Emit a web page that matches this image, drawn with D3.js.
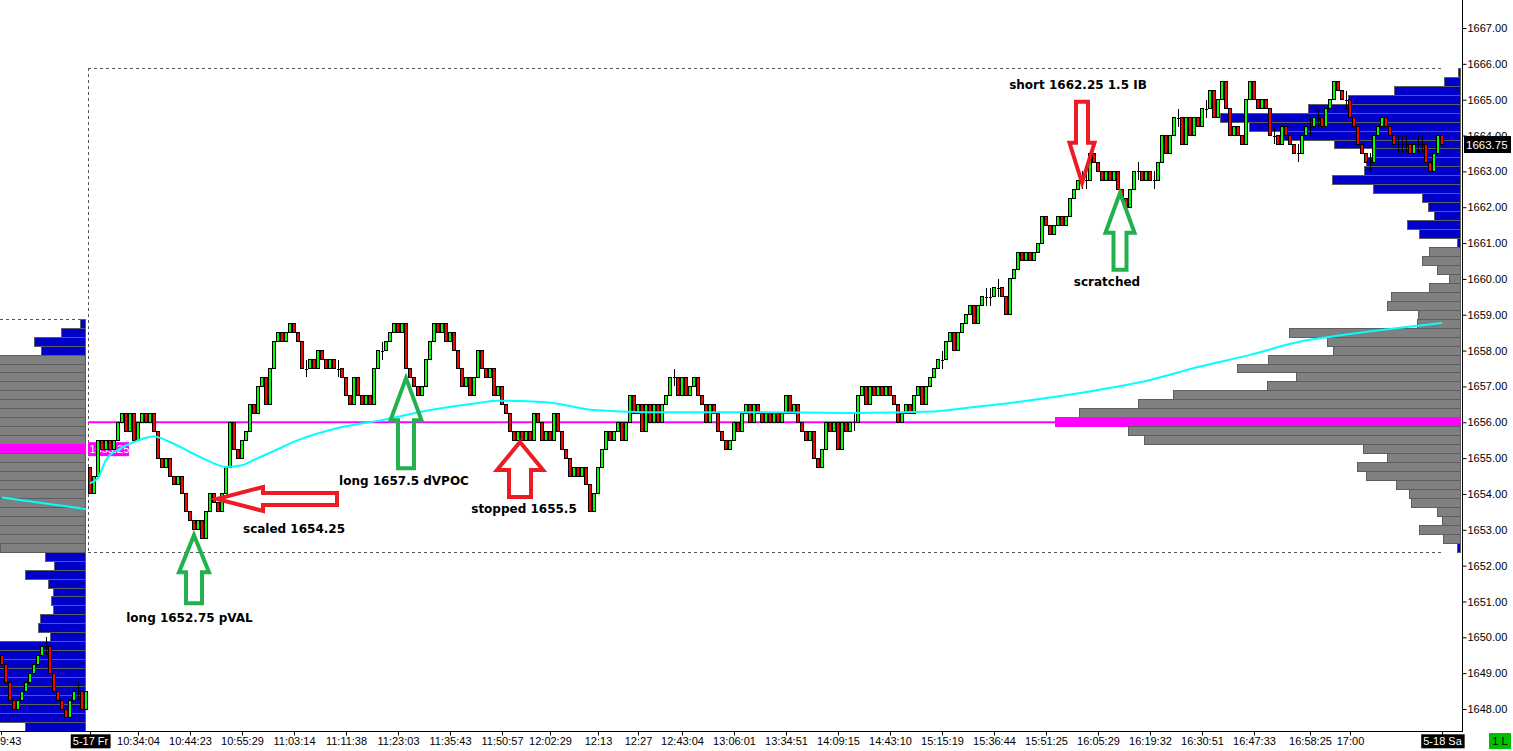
<!DOCTYPE html>
<html><head><meta charset="utf-8">
<script src="https://cdn.jsdelivr.net/npm/d3@7"></script>
<style>html,body{margin:0;padding:0;background:#fff;overflow:hidden}svg{display:block}</style>
</head><body>
<svg id="c" width="1513" height="751"></svg>
<script>
// ---------------- DATA ----------------
const priceTicks = [1648,1649,1650,1651,1652,1653,1654,1655,1656,1657,1658,1659,1660,1661,1662,1663,1664,1665,1666,1667];

const timeLabels = ["5-17 Fr","10:34:04","10:44:23","10:55:29","11:03:14","11:11:38","11:23:03","11:35:43","11:50:57","12:02:29","12:13","12:27","12:43:04","13:06:01","13:34:51","14:09:15","14:43:10","15:15:19","15:36:44","15:51:25","16:05:29","16:19:32","16:30:51","16:47:33","16:58:25","17:00","5-18 Sa"];
const timeBars   = [0,12,25,38,51,64,77,90,103,115,127,137,148,161,174,187,200,213,226,239,252,265,278,291,305,315,338];
const dateLabels = ["5-17 Fr","5-18 Sa"];
const prevTimeLabel = "9:43";

// previous session (bars -22 .. -1)
const prevFirstOpen = 1649.5;
const prevCloses = [1649.25,1648.75,1648.25,1648.0,1648.25,1648.5,1648.75,1649.0,1649.25,1649.5,1649.75,1649.75,1649.0,1648.5,1648.25,1648.0,1647.75,1648.25,1648.5,1648.5,1648.0,1648.5];

// current session (bars 0 .. 338)
const firstOpen = 1654.75;
const closes = [
1654.0,1654.5,1655.5,1655.25,1655.5,1655.25,1655.5,1656.0,1656.25,1655.75,
1656.25,1655.5,1656.0,1656.25,1656.0,1656.25,1655.75,1655.0,1654.75,1655.0,
1654.5,1654.25,1654.5,1654.0,1653.5,1653.25,1653.0,1653.25,1652.75,1653.5,
1654.0,1653.75,1653.5,1654.0,1654.75,1656.0,1655.25,1655.0,1655.5,1655.75,
1656.5,1656.25,1657.0,1657.25,1656.5,1657.5,1658.25,1658.5,1658.25,1658.5,
1658.75,1658.5,1658.25,1657.5,1657.5,1657.75,1657.5,1658.0,1657.75,1657.5,
1657.75,1657.5,1657.5,1657.25,1656.75,1656.5,1657.25,1656.75,1656.5,1656.75,
1656.5,1657.5,1658.0,1658.0,1658.25,1658.5,1658.75,1658.5,1658.75,1657.5,
1657.25,1657.0,1656.75,1657.0,1657.75,1658.25,1658.75,1658.5,1658.75,1658.25,
1658.5,1658.0,1657.5,1657.0,1657.25,1656.75,1657.25,1658.0,1657.5,1657.25,
1657.5,1656.75,1657.0,1656.5,1656.25,1655.75,1655.5,1655.75,1655.5,1655.75,
1655.5,1656.25,1656.0,1655.5,1655.75,1655.5,1656.25,1655.75,1655.25,1655.0,
1654.5,1654.75,1654.5,1654.75,1654.25,1653.5,1654.0,1654.75,1655.25,1655.75,
1655.5,1655.75,1656.0,1655.5,1656.0,1656.75,1656.25,1656.5,1655.75,1656.5,
1656.0,1656.5,1656.0,1656.5,1656.75,1657.25,1657.25,1656.75,1657.25,1656.75,
1657.0,1657.25,1656.75,1656.5,1656.0,1656.5,1656.25,1655.75,1655.5,1655.25,
1655.5,1656.0,1655.75,1656.25,1656.5,1656.0,1656.5,1656.25,1656.0,1656.25,
1656.0,1656.25,1656.0,1656.25,1656.75,1656.25,1656.5,1656.0,1655.75,1655.5,
1655.75,1655.0,1654.75,1655.25,1656.0,1655.75,1656.0,1655.25,1656.0,1655.75,
1656.0,1656.0,1656.75,1657.0,1656.5,1657.0,1656.75,1657.0,1656.75,1657.0,
1656.75,1656.5,1656.0,1656.25,1656.5,1656.25,1656.75,1657.0,1656.5,1657.0,
1657.25,1657.5,1657.75,1657.75,1658.25,1658.5,1658.0,1658.5,1658.75,1659.0,
1659.25,1658.75,1659.25,1659.5,1659.5,1659.5,1659.75,1659.75,1659.5,1659.0,
1660.0,1660.25,1660.75,1660.5,1660.75,1660.5,1660.75,1661.0,1661.75,1661.5,
1661.25,1661.5,1661.75,1661.5,1661.75,1662.25,1662.5,1662.75,1662.75,1662.75,
1663.5,1663.25,1663.0,1662.75,1663.0,1662.75,1663.0,1662.5,1662.25,1662.0,
1662.5,1663.0,1663.0,1662.75,1663.0,1662.75,1662.75,1663.25,1664.0,1663.5,
1664.0,1664.5,1664.5,1663.75,1664.5,1664.0,1664.5,1664.25,1664.75,1664.75,
1665.25,1664.5,1665.0,1665.5,1664.75,1664.0,1664.25,1664.0,1663.75,1665.0,
1665.5,1665.0,1664.75,1665.0,1664.75,1664.0,1664.0,1663.75,1664.25,1664.0,
1663.75,1663.5,1663.5,1664.0,1664.25,1664.25,1664.5,1664.5,1664.25,1664.75,
1665.0,1665.5,1665.25,1665.0,1665.0,1664.5,1664.25,1663.75,1663.5,1663.25,
1663.25,1664.0,1664.25,1664.5,1664.25,1664.0,1663.75,1663.75,1663.75,1663.75,
1663.5,1663.75,1663.75,1663.75,1663.25,1663.0,1663.5,1664.0,1663.75];

// moving average readings [bar, value]
const maPrev = [[-22,1653.9],[-12,1653.75],[-1,1653.58]];
const maMain = [[0,1654.3],[2,1654.45],[4,1654.95],[7,1655.23],[11,1655.45],[16,1655.6],[20,1655.45],[25,1655.17],[30,1654.9],[34,1654.75],[38,1654.8],[41,1654.95],[46,1655.2],[52,1655.5],[62,1655.84],[73,1656.06],[85,1656.34],[97,1656.54],[102,1656.6],[114,1656.56],[126,1656.34],[139,1656.28],[166,1656.28],[190,1656.26],[211,1656.3],[219,1656.4],[230,1656.54],[252,1656.9],[265,1657.18],[277,1657.54],[290,1657.88],[302,1658.24],[315,1658.46],[327,1658.63],[338,1658.77]];

// volume profiles [price, volume]
const rightProfile = [[1665.75,2],[1665.5,16],[1665.25,66],[1665.0,112],[1664.75,152],[1664.5,240],[1664.25,211],[1664.0,178],[1663.75,126],[1663.5,88],[1663.25,94],[1663.0,96],[1662.75,128],[1662.5,87],[1662.25,38],[1662.0,32],[1661.75,26],[1661.5,53],[1661.25,41],[1661.0,3],[1660.75,31],[1660.5,38],[1660.25,23],[1660.0,11],[1659.75,31],[1659.5,69],[1659.25,73],[1659.0,42],[1658.75,43],[1658.5,171],[1658.25,133],[1658.0,127],[1657.75,192],[1657.5,223],[1657.25,164],[1657.0,193],[1656.75,287],[1656.5,322],[1656.25,381],[1656.0,405],[1655.75,332],[1655.5,316],[1655.25,97],[1655.0,73],[1654.75,103],[1654.5,94],[1654.25,64],[1654.0,51],[1653.75,49],[1653.5,23],[1653.25,18],[1653.0,41],[1652.75,17],[1652.5,3]];
const rightVA = [1652.75, 1660.75];
const rightPOC = 1656.0;

const leftProfile = [[1658.75,5],[1658.5,24],[1658.25,51],[1658.0,44],[1657.75,110],[1657.5,125],[1657.25,140],[1657.0,150],[1656.75,160],[1656.5,170],[1656.25,190],[1656.0,210],[1655.75,230],[1655.5,260],[1655.25,300],[1655.0,250],[1654.75,220],[1654.5,200],[1654.25,180],[1654.0,160],[1653.75,150],[1653.5,130],[1653.25,120],[1653.0,110],[1652.75,95],[1652.5,85],[1652.25,40],[1652.0,31],[1651.75,60],[1651.5,37],[1651.25,32],[1651.0,34],[1650.75,32],[1650.5,45],[1650.25,47],[1650.0,35],[1649.75,95],[1649.5,105],[1649.25,110],[1649.0,120],[1648.75,115],[1648.5,125],[1648.25,110],[1648.0,100],[1647.75,90],[1647.5,60]];
const leftVA = [1652.5, 1657.75];
const leftPOC = 1655.25;

const sessionHigh = 1665.75, sessionLow = 1652.5, prevHigh = 1658.75;

// trade annotations
const noteText  = ["long 1652.75 pVAL","scaled 1654.25","long 1657.5 dVPOC","stopped 1655.5","short 1662.25 1.5 IB","scratched"];
const noteBar   = [26, 31.75, 79, 107.5, 248, 257.5];
const notePrice = [1652.85, 1653.86, 1657.23, 1655.45, 1662.68, 1662.4];

// ---------------- STYLE ----------------
const noteStyle = [
  {dir:"up",   color:"#22b14c", hl:37, hh:15, sh:8,  sl:31, tx:-4.5, ty:87},
  {dir:"left", color:"#ed1c24", hl:46, hh:12, sh:6,  sl:74, tx:77,   ty:34},
  {dir:"up",   color:"#22b14c", hl:42, hh:15.5,sh:8, sl:48, tx:-2,   ty:107},
  {dir:"up",   color:"#ed1c24", hl:28, hh:23, sh:11, sl:27, tx:4,    ty:71},
  {dir:"down", color:"#ed1c24", hl:40, hh:12.5,sh:6, sl:41, tx:-4,   ty:-94},
  {dir:"up",   color:"#22b14c", hl:40, hh:14.5,sh:6.5,sl:37, tx:-13, ty:93}
];

const svg = d3.select("#c");
const AX = 1462, AY = 731;
const FONT = "'Liberation Sans', Arial, sans-serif";
const x = d3.scaleLinear().domain([-22, 338]).range([2, 1442]);
const y = d3.scaleLinear().domain([1648, 1667]).range([709, 28]);
const vol = d3.scaleLinear().domain([0, 405]).range([0, 405]);
const rowH = y(1656) - y(1656.25);

svg.append("rect").attr("width",1513).attr("height",751).attr("fill","#fff");

const plot = svg.append("g");
plot.append("clipPath").attr("id","pc").append("rect").attr("x",0).attr("y",0).attr("width",AX).attr("height",AY);
const g = plot.append("g").attr("clip-path","url(#pc)");

// profiles
function drawProfile(data, edge, va, poc) {
  g.append("g").attr("shape-rendering","crispEdges")
   .selectAll("rect").data(data).join("rect")
   .attr("x", d => edge - vol(d[1]))
   .attr("width", d => vol(d[1]))
   .attr("y", d => y(d[0] + 0.125))
   .attr("height", rowH)
   .attr("fill", d => d[0] === poc ? "#ff00ff" : (d[0] >= va[0] && d[0] <= va[1] ? "#808080" : "#0000c8"))
   .attr("stroke", d => d[0] === poc ? "#ff00ff" : "#5e5e5e")
   .attr("stroke-width", 1);
}
drawProfile(leftProfile, 85.5, leftVA, leftPOC);
drawProfile(rightProfile, 1460.5, rightVA, rightPOC);

// session boxes (dashed)
const dash = {stroke:"#555", "stroke-width":1, "stroke-dasharray":"3,3", fill:"none"};
function dline(x1,y1,x2,y2){ const l=g.append("line").attr("x1",x1).attr("y1",y1).attr("x2",x2).attr("y2",y2).attr("shape-rendering","crispEdges"); Object.entries(dash).forEach(([k,v])=>l.attr(k,v)); }
const bx0 = x(-0.5), bx1 = x(338);
dline(bx0, Math.round(y(sessionHigh+0.125))+0.5, bx1, Math.round(y(sessionHigh+0.125))+0.5);
dline(bx0, Math.round(y(sessionLow-0.125))+0.5, bx1, Math.round(y(sessionLow-0.125))+0.5);
dline(Math.round(bx0)+0.5, y(sessionHigh+0.125), Math.round(bx0)+0.5, y(sessionLow-0.125));
dline(0, Math.round(y(prevHigh+0.125))+0.5, 85, Math.round(y(prevHigh+0.125))+0.5);

// POC line of current session
g.append("line").attr("x1", bx0).attr("x2", 1460).attr("y1", y(rightPOC)).attr("y2", y(rightPOC))
 .attr("stroke","#ff00ff").attr("stroke-width",2);

// previous POC label
const pl = g.append("g");
pl.append("rect").attr("x", bx0).attr("y", y(leftPOC)-7).attr("width", 41).attr("height", 14).attr("fill","#ff00ff");
pl.append("text").attr("x", bx0+1.5).attr("y", y(leftPOC)+4).attr("fill","#fff")
  .attr("font-family",FONT).attr("font-size",11).text(d3.format(".2f")(leftPOC));

// candles
function mkBars(cl, o0, start){ return cl.map((c,k)=>({i:start+k, o: k===0 ? o0 : cl[k-1], c})); }
const allBars = mkBars(prevCloses, prevFirstOpen, -22).concat(mkBars(closes, firstOpen, 0));
const cg = g.append("g").attr("shape-rendering","crispEdges");
allBars.forEach(b => {
  const cx = Math.round(x(b.i));
  if (b.o === b.c) {
    cg.append("line").attr("x1",cx+0.5).attr("x2",cx+0.5).attr("y1",y(b.c+0.25)).attr("y2",y(b.c-0.25)).attr("stroke","#000");
    cg.append("line").attr("x1",cx-1).attr("x2",cx+2).attr("y1",Math.round(y(b.c))+0.5).attr("y2",Math.round(y(b.c))+0.5).attr("stroke","#000");
  } else {
    const top = y(Math.max(b.o,b.c)), bot = y(Math.min(b.o,b.c));
    cg.append("rect").attr("x",cx-1.5).attr("width",3).attr("y",top).attr("height",bot-top)
      .attr("fill", b.c > b.o ? "#00ff00" : "#ff0000").attr("stroke","#000").attr("stroke-width",1);
  }
});

// moving average
const line = d3.line().x(d=>x(d[0])).y(d=>y(d[1])).curve(d3.curveMonotoneX);
g.append("path").attr("d", line(maPrev)).attr("fill","none").attr("stroke","#00ffff").attr("stroke-width",2);
g.append("path").attr("d", line(maMain)).attr("fill","none").attr("stroke","#00ffff").attr("stroke-width",2);

// annotations
noteText.forEach((t, k) => {
  const s = noteStyle[k];
  const tx = x(noteBar[k]), ty = y(notePrice[k]);
  let pts;
  if (s.dir === "up" || s.dir === "down") {
    const sg = s.dir === "up" ? 1 : -1;
    pts = [[0,0],[s.hh,s.hl],[s.sh,s.hl],[s.sh,s.hl+s.sl],[-s.sh,s.hl+s.sl],[-s.sh,s.hl],[-s.hh,s.hl]].map(p=>[tx+p[0], ty+sg*p[1]]);
  } else {
    pts = [[0,0],[s.hl,-s.hh],[s.hl,-s.sh],[s.hl+s.sl,-s.sh],[s.hl+s.sl,s.sh],[s.hl,s.sh],[s.hl,s.hh]].map(p=>[tx+p[0], ty+p[1]]);
  }
  g.append("path").attr("d", "M" + pts.map(p=>p.join(",")).join("L") + "Z")
   .attr("fill","none").attr("stroke", s.color).attr("stroke-width",4).attr("stroke-linejoin","miter");
  svg.append("text").attr("x", tx + s.tx).attr("y", ty + s.ty).attr("text-anchor","middle")
   .attr("font-family","'DejaVu Sans', Verdana, sans-serif").attr("font-weight","bold").attr("font-size",12)
   .attr("fill","#000").text(t);
});

// axes
svg.append("line").attr("x1",AX+0.5).attr("x2",AX+0.5).attr("y1",0).attr("y2",AY+1).attr("stroke","#000");
svg.append("line").attr("x1",0).attr("x2",AX+1).attr("y1",AY+0.5).attr("y2",AY+0.5).attr("stroke","#000");

const yAxis = svg.append("g").attr("transform",`translate(${AX+0.5},0)`)
  .call(d3.axisRight(y).tickValues(priceTicks).tickFormat(d3.format(".2f")).tickSize(4).tickPadding(1));
yAxis.select(".domain").remove();
yAxis.selectAll("text").attr("font-family",FONT).attr("font-size",11).attr("fill","#000");

const xAxis = svg.append("g").attr("transform",`translate(0,${AY+0.5})`)
  .call(d3.axisBottom(x).tickValues(timeBars).tickFormat((d,i)=>timeLabels[i]).tickSize(4).tickPadding(2));
xAxis.select(".domain").remove();
xAxis.selectAll("text").attr("font-family",FONT).attr("font-size",11).attr("fill","#000");
xAxis.selectAll(".tick").each(function(d,i){
  if (dateLabels.includes(timeLabels[i])) {
    const t = d3.select(this).select("text");
    t.attr("fill","#fff");
    const bb = t.node().getBBox();
    d3.select(this).insert("rect","text").attr("x",bb.x-2).attr("y",bb.y-1).attr("width",bb.width+4).attr("height",bb.height+2).attr("fill","#000");
  }
});
// partial label of previous session
svg.append("text").attr("x", x(-22)-2).attr("y", AY+14).attr("font-family",FONT).attr("font-size",11).attr("fill","#000").text(prevTimeLabel);
svg.append("line").attr("x1",1.5).attr("x2",1.5).attr("y1",AY).attr("y2",AY+4).attr("stroke","#000");

// last price box
const last = closes[closes.length-1];
svg.append("rect").attr("x",AX+2).attr("y",y(last)-8.5).attr("width",47).attr("height",17).attr("fill","#000");
svg.append("text").attr("x",AX+4).attr("y",y(last)+4.5).attr("font-family",FONT).attr("font-size",11.5).attr("fill","#fff").text(d3.format(".2f")(last));

// status box
svg.append("rect").attr("x",1489).attr("y",AY+2).attr("width",22).attr("height",16).attr("fill","#00c000");
svg.append("text").attr("x",1500).attr("y",AY+14).attr("text-anchor","middle").attr("font-family",FONT).attr("font-size",11).attr("fill","#000").text("1 L");
</script>
</body></html>
